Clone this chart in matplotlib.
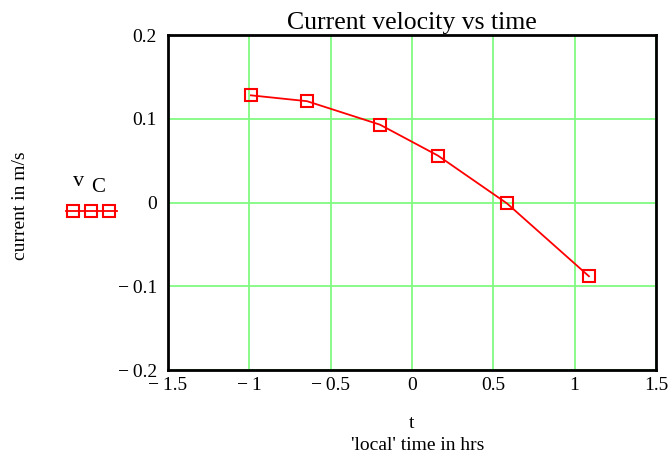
import matplotlib
matplotlib.use("Agg")
import matplotlib.pyplot as plt
from matplotlib.ticker import FuncFormatter
from matplotlib.lines import Line2D

plt.rcParams['font.family'] = ['Liberation Serif', 'DejaVu Serif']

t = [-0.99, -0.645, -0.197, 0.16, 0.584, 1.088]
vc = [0.128, 0.121, 0.093, 0.056, -0.001, -0.088]
xticks = [-1.5, -1, -0.5, 0, 0.5, 1, 1.5]
yticks = [-0.2, -0.1, 0, 0.1, 0.2]

fig = plt.figure(figsize=(6.7, 4.62), dpi=100)
ax = fig.add_axes([0.2507, 0.199, 0.979 - 0.2507, 0.9242 - 0.199])

ax.plot(t, vc, color='red', lw=1.3, marker='s', markersize=9,
        markerfacecolor='none', markeredgecolor='red', markeredgewidth=1.5, zorder=3)

ax.set_xlim(-1.5, 1.5)
ax.set_ylim(-0.2, 0.2)
ax.set_xticks(xticks)
ax.set_yticks(yticks)
ax.grid(True, color='#80fa80', lw=1.3)
ax.set_axisbelow(True)

def fmt(v, pos):
    if abs(v) < 1e-9:
        return "0"
    s = f"{abs(v):g}"
    return ("\u2212\u2009" + s) if v < 0 else s

ax.xaxis.set_major_formatter(FuncFormatter(fmt))
ax.yaxis.set_major_formatter(FuncFormatter(fmt))
ax.tick_params(length=0, labelsize=14, pad=8)
ax.tick_params(axis='x', pad=5)
for sp in ax.spines.values():
    sp.set_linewidth(2)
    sp.set_color('black')

ax.set_title("Current velocity vs time", fontsize=18.5, pad=4)

fig.text(21/670, 1 - 206/462, "current in m/s", rotation=90, ha='center', va='center', fontsize=14)
fig.text(412/670, 1 - 423/462, "t", ha='center', va='center', fontsize=14)
fig.text(418/670, 1 - 446/462, "'local' time in hrs", ha='center', va='center', fontsize=14)

# legend-like label
fig.text(79/670, 1 - 182/462, "v", ha='center', va='center', fontsize=16)
fig.text(98/670, 1 - 188/462, "C", ha='center', va='center', fontsize=15)
leg_ax = fig.add_axes([0, 0, 1, 1], facecolor='none')
leg_ax.set_xlim(0, 670)
leg_ax.set_ylim(462, 0)
leg_ax.axis('off')
leg_ax.add_line(Line2D([66, 117], [211, 211], color='red', lw=1.3))
leg_ax.add_line(Line2D([73, 91, 109], [211, 211, 211], linestyle='none', marker='s', markersize=9,
                       markerfacecolor='none', markeredgecolor='red', markeredgewidth=1.5))

fig.savefig("out.png", dpi=100)
